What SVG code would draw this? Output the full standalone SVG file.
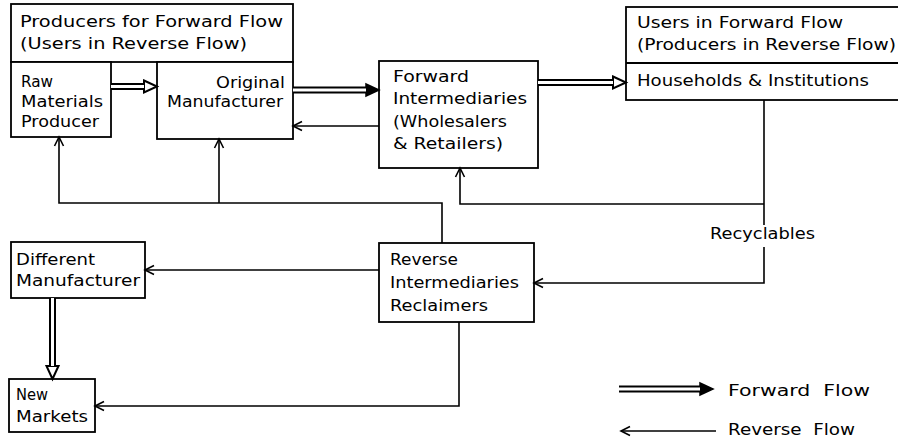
<svg xmlns="http://www.w3.org/2000/svg" width="898" height="442" viewBox="0 0 898 442">
<style>
  text { font-family: "DejaVu Sans", "Liberation Sans", sans-serif; font-size: 16px; fill: #000; }
  .box { fill: #fff; stroke: #000; stroke-width: 1.8; }
  .rev { fill: none; stroke: #000; stroke-width: 1.6; }
  .dbl-o { fill: none; stroke: #000; stroke-width: 7; }
  .dbl-i { fill: none; stroke: #fff; stroke-width: 3; }
</style>
<defs>
  <marker id="chev" markerUnits="userSpaceOnUse" markerWidth="14" markerHeight="14" viewBox="-12 -7 14 14" refX="0" refY="0" orient="auto">
    <path d="M-9,-4.5 L0,0 L-9,4.5" fill="none" stroke="#000" stroke-width="1.6"/>
  </marker>
  <marker id="headOpen" markerUnits="userSpaceOnUse" markerWidth="18" markerHeight="18" viewBox="-2 -9 18 18" refX="0" refY="0" orient="auto">
    <path d="M0,-6 L13,0 L0,6 Z" fill="#fff" stroke="#000" stroke-width="2"/>
  </marker>
  <marker id="headFill" markerUnits="userSpaceOnUse" markerWidth="18" markerHeight="18" viewBox="-2 -9 18 18" refX="0" refY="0" orient="auto">
    <path d="M0,-6 L13,0 L0,6 Z" fill="#000" stroke="#000" stroke-width="1.5"/>
  </marker>
</defs>
<rect width="898" height="442" fill="#fff"/>

<g id="producers-header">
  <rect class="box" x="11" y="4" width="282" height="58"/>
  <text x="20" y="27" textLength="263" lengthAdjust="spacingAndGlyphs">Producers for Forward Flow</text>
  <text x="20" y="49" textLength="227" lengthAdjust="spacingAndGlyphs">(Users in Reverse Flow)</text>
</g>
<g id="raw-materials">
  <rect class="box" x="11" y="62" width="100" height="75"/>
  <text x="21" y="87" textLength="32" lengthAdjust="spacingAndGlyphs">Raw</text>
  <text x="21" y="107" textLength="82" lengthAdjust="spacingAndGlyphs">Materials</text>
  <text x="21" y="127" textLength="78" lengthAdjust="spacingAndGlyphs">Producer</text>
</g>
<g id="original-manufacturer">
  <rect class="box" x="157" y="62" width="136" height="77"/>
  <text x="216" y="88" textLength="69" lengthAdjust="spacingAndGlyphs">Original</text>
  <text x="167" y="107" textLength="116" lengthAdjust="spacingAndGlyphs">Manufacturer</text>
</g>
<g id="forward-intermediaries">
  <rect class="box" x="379" y="61" width="159" height="107"/>
  <text x="393" y="82" textLength="76" lengthAdjust="spacingAndGlyphs">Forward</text>
  <text x="393" y="104" textLength="134" lengthAdjust="spacingAndGlyphs">Intermediaries</text>
  <text x="393" y="127" textLength="114" lengthAdjust="spacingAndGlyphs">(Wholesalers</text>
  <text x="393" y="149" textLength="110" lengthAdjust="spacingAndGlyphs">&amp; Retailers)</text>
</g>
<g id="users">
  <rect class="box" x="626" y="7" width="280" height="93"/>
  <line x1="626" y1="63" x2="906" y2="63" stroke="#000" stroke-width="1.8"/>
  <text x="637" y="28" textLength="206" lengthAdjust="spacingAndGlyphs">Users in Forward Flow</text>
  <text x="637" y="50" textLength="259" lengthAdjust="spacingAndGlyphs">(Producers in Reverse Flow)</text>
  <text x="637" y="86" textLength="232" lengthAdjust="spacingAndGlyphs">Households &amp; Institutions</text>
</g>
<g id="reverse-intermediaries">
  <rect class="box" x="379" y="243" width="155" height="79"/>
  <text x="390" y="265" textLength="68" lengthAdjust="spacingAndGlyphs">Reverse</text>
  <text x="390" y="288" textLength="129" lengthAdjust="spacingAndGlyphs">Intermediaries</text>
  <text x="390" y="311" textLength="98" lengthAdjust="spacingAndGlyphs">Reclaimers</text>
</g>
<g id="different-manufacturer">
  <rect class="box" x="11" y="242" width="134" height="56"/>
  <text x="16" y="265" textLength="79" lengthAdjust="spacingAndGlyphs">Different</text>
  <text x="16" y="286" textLength="124" lengthAdjust="spacingAndGlyphs">Manufacturer</text>
</g>
<g id="new-markets">
  <rect class="box" x="9" y="379" width="86" height="53"/>
  <text x="16" y="400" textLength="32" lengthAdjust="spacingAndGlyphs">New</text>
  <text x="16" y="422" textLength="72" lengthAdjust="spacingAndGlyphs">Markets</text>
</g>

<g id="connectors">
  <!-- forward (double) flows -->
  <path class="dbl-o" d="M111,86.5 H144" marker-end="url(#headOpen)"/>
  <path class="dbl-i" d="M111,86.5 H144"/>
  <path class="dbl-o" d="M293,90 H366" marker-end="url(#headFill)"/>
  <path class="dbl-i" d="M293,90 H366"/>
  <path class="dbl-o" d="M538,82.5 H613" marker-end="url(#headOpen)"/>
  <path class="dbl-i" d="M538,82.5 H613"/>
  <path class="dbl-o" d="M52.5,298 V366" marker-end="url(#headOpen)"/>
  <path class="dbl-i" d="M52.5,298 V366"/>
  <!-- reverse flows -->
  <path class="rev" d="M379,126 H293" marker-end="url(#chev)"/>
  <path class="rev" d="M442,243 V203 H59 V137" marker-end="url(#chev)"/>
  <path class="rev" d="M219,203 V139" marker-end="url(#chev)"/>
  <path class="rev" d="M764,100 V225"/>
  <path class="rev" d="M764,204 H460 V168" marker-end="url(#chev)"/>
  <path class="rev" d="M764,247 V283 H534" marker-end="url(#chev)"/>
  <path class="rev" d="M379,270 H145" marker-end="url(#chev)"/>
  <path class="rev" d="M459,322 V406 H95" marker-end="url(#chev)"/>
  <text x="710" y="239" textLength="105" lengthAdjust="spacingAndGlyphs">Recyclables</text>
</g>

<g id="legend">
  <path class="dbl-o" d="M619,389 H700" marker-end="url(#headFill)"/>
  <path class="dbl-i" d="M619,389 H700"/>
  <text x="728" y="396" textLength="142" lengthAdjust="spacingAndGlyphs" xml:space="preserve">Forward  Flow</text>
  <path class="rev" d="M716,431 H621" marker-end="url(#chev)"/>
  <text x="728" y="435" textLength="127" lengthAdjust="spacingAndGlyphs" xml:space="preserve">Reverse  Flow</text>
</g>
</svg>
